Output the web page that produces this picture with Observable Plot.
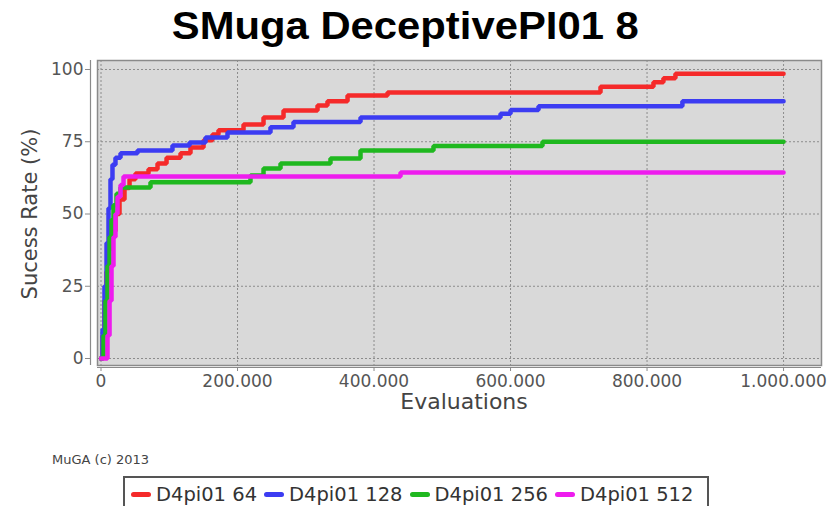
<!DOCTYPE html>
<html>
<head>
<meta charset="utf-8">
<script src="https://cdn.jsdelivr.net/npm/d3@7"></script>
<script src="https://cdn.jsdelivr.net/npm/@observablehq/plot@0.6"></script>
<style>
  html, body { margin: 0; padding: 0; background: #fff; }
  body { width: 835px; height: 506px; position: relative; overflow: hidden; font-family: "DejaVu Sans", sans-serif; }
  #title { position: absolute; top: 5px; left: 0; width: 810px; text-align: center; }
  #title span { display: inline-block; font-family: "Liberation Sans", Arial, sans-serif; font-weight: bold; font-size: 38px; color: #000; transform: scaleX(1.1); }
  #chart { position: absolute; top: 50px; left: 0; }
  #credit { position: absolute; left: 52px; top: 452px; font-size: 13px; color: #444; }
  #legend { position: absolute; left: 123px; top: 476px; width: 586px; height: 44px; border: 2px solid #555; box-sizing: border-box; display: flex; align-items: flex-start; padding: 5px 0 0 6px; }
  .item { display: flex; align-items: center; margin-right: 7px; font-size: 19.5px; color: #333; white-space: nowrap; }
  .sw { display: inline-block; width: 20px; height: 5px; border-radius: 3px; margin-right: 5px; }
</style>
</head>
<body>
<div id="title"><span>SMuga DeceptivePI01 8</span></div>
<div id="chart"></div>
<div id="credit">MuGA (c) 2013</div>
<div id="legend"></div>
<script>
// ---- data ----
const seriesNames = ["D4pi01 64", "D4pi01 128", "D4pi01 256", "D4pi01 512"];
const seriesColors = ["#f52a2a", "#3c3cf2", "#1fb81f", "#ee1cee"];

const evals64 = [0, 2200, 5100, 8100, 11000, 15400, 21200, 27100, 34400, 41800, 50500, 69600, 82800, 96000, 116500, 131100, 150200, 163300, 172100, 208800, 238100, 267400, 317200, 331800, 361200, 419800, 731800, 809400, 824000, 841600, 1000000];
const rate64  = [0, 8, 20, 30, 38, 44, 50, 55, 59, 62, 64, 65.5, 67.5, 69.5, 71, 73, 75.5, 77.5, 79, 81, 83.4, 85.8, 87.5, 89, 91, 92, 94, 95.6, 97, 98.5, 98.5];

const evals128 = [0, 2200, 5100, 8100, 11000, 13900, 16800, 21200, 28600, 53500, 104700, 129700, 153100, 185300, 248300, 282000, 380200, 585300, 600000, 641000, 851800, 1000000];
const rate128  = [0, 10, 25, 40, 52, 62, 67, 69.5, 71, 72, 73.7, 74.7, 76.5, 78.2, 80, 81.8, 83.4, 84.7, 86, 87.3, 89, 89];

const evals256 = [0, 3700, 6600, 9500, 12500, 15400, 18300, 22700, 28600, 72500, 219000, 238100, 263000, 336200, 380200, 487100, 646800, 1000000];
const rate256  = [0, 8, 20, 32, 42, 48, 53, 57, 59.2, 61, 63.3, 65.7, 67.5, 69.2, 72, 73.5, 75, 75];

const evals512 = [0, 6600, 9500, 12500, 15400, 18300, 21200, 24200, 28600, 33000, 438800, 1000000];
const rate512  = [0, 0, 8, 20, 32, 42, 50, 56, 60, 63, 64.4, 64.4];

const xTicks = [0, 200000, 400000, 600000, 800000, 1000000];
const yTicks = [0, 25, 50, 75, 100];
const xLabel = "Evaluations";
const yLabel = "Sucess Rate (%)";
const xDomain = [-15400, 1055600];
const yDomain = [-3.11, 103.11];

// ---- build table ----
const allEvals = [evals64, evals128, evals256, evals512];
const allRates = [rate64, rate128, rate256, rate512];
const rows = [];
seriesNames.forEach((name, i) => {
  allEvals[i].forEach((e, j) => rows.push({series: name, evals: e, rate: allRates[i][j]}));
});

const fmt = d3.formatLocale({decimal: ",", thousands: ".", grouping: [3], currency: ["", ""]}).format(",d");

const chart = Plot.plot({
  width: 835,
  height: 380,
  marginLeft: 90,
  marginRight: 14,
  marginTop: 10,
  marginBottom: 63,
  style: {background: "transparent", fontFamily: "DejaVu Sans, sans-serif"},
  x: {domain: xDomain},
  y: {domain: yDomain},
  color: {domain: seriesNames, range: seriesColors},
  marks: [
    Plot.frame({fill: "#d9d9d9", stroke: null, insetLeft: 7, insetBottom: 2}),
    Plot.gridX(xTicks, {stroke: "#8c8c8c", strokeOpacity: 1, strokeWidth: 1, strokeDasharray: "2,2", insetBottom: 2}),
    Plot.gridY(yTicks, {stroke: "#8c8c8c", strokeOpacity: 1, strokeWidth: 1, strokeDasharray: "2,2", insetLeft: 7}),
    Plot.line(rows, {x: "evals", y: "rate", z: "series", stroke: "series", curve: "step-after", strokeWidth: 4.5, strokeLinejoin: "miter"}),
    Plot.frame({stroke: "#8a8a8a", strokeWidth: 1.5, insetLeft: 7, insetBottom: 2}),
    Plot.ruleX([xDomain[0]], {stroke: "#8a8a8a", strokeWidth: 1.2, insetBottom: 2}),
    Plot.ruleY([yDomain[0]], {stroke: "#8a8a8a", strokeWidth: 1.2, insetLeft: 7}),
    Plot.axisX({ticks: xTicks, tickFormat: fmt, tickSize: 4, tickPadding: 3, fontSize: 17, color: "#555", stroke: "#8a8a8a", label: null}),
    Plot.axisY({ticks: yTicks, tickSize: 5, tickPadding: 2, fontSize: 17, color: "#555", stroke: "#8a8a8a", label: null}),
    Plot.text([yLabel], {frameAnchor: "left", textAnchor: "middle", lineAnchor: "middle", rotate: -90, dx: -60, fontSize: 21, fill: "#444", text: d => d}),
    Plot.text([xLabel], {frameAnchor: "bottom", textAnchor: "middle", lineAnchor: "middle", dx: 8, dy: 34, fontSize: 22, fill: "#444", text: d => d})
  ]
});
document.getElementById("chart").appendChild(chart);

// ---- legend ----
const legend = document.getElementById("legend");
seriesNames.forEach((name, i) => {
  const it = document.createElement("div");
  it.className = "item";
  const sw = document.createElement("span");
  sw.className = "sw";
  sw.style.background = seriesColors[i];
  it.appendChild(sw);
  it.appendChild(document.createTextNode(name));
  legend.appendChild(it);
});
</script>
</body>
</html>
